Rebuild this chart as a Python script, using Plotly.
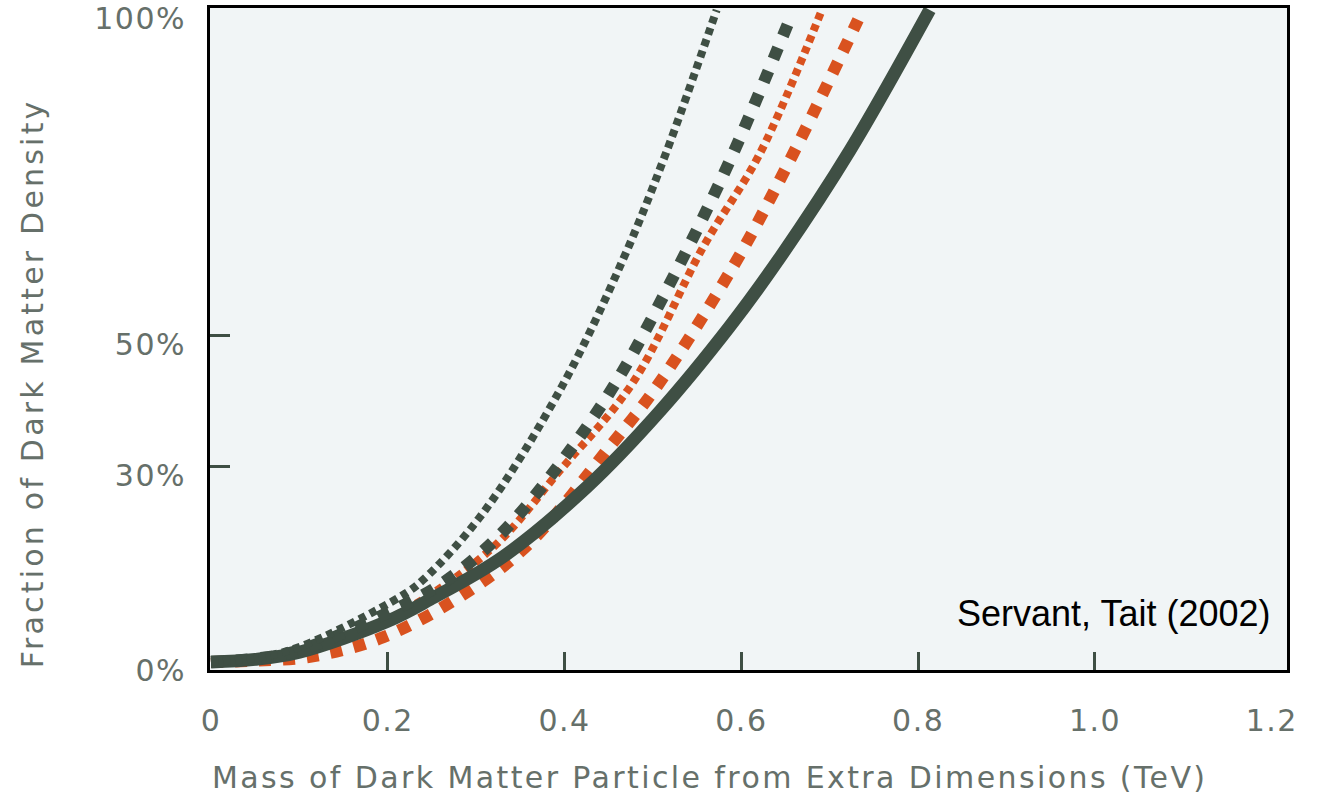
import plotly.graph_objects as go

# Hodnoty (x v TeV, y v %)
steep_x = [0, 0.05, 0.1, 0.214, 0.24, 0.308, 0.398, 0.466, 0.514, 0.572]
steep_y = [0, 0.6, 2.3, 10, 12.6, 22.9, 42.5, 61.7, 77.8, 100]

dark_big_x = [0, 0.05, 0.1, 0.199, 0.262, 0.327, 0.398, 0.46, 0.528, 0.589, 0.653]
dark_big_y = [0, 0.5, 1.8, 7.5, 12.1, 19.5, 31, 43.3, 60.4, 77.5, 98]

orange_small_x = [0, 0.05, 0.1, 0.2, 0.316, 0.395, 0.477, 0.557, 0.621, 0.691]
orange_small_y = [0, 0.4, 1.5, 6.5, 17.2, 29.4, 42.8, 63.7, 78, 100]

orange_big_x = [0, 0.05, 0.112, 0.195, 0.293, 0.361, 0.451, 0.504, 0.593, 0.658, 0.732]
orange_big_y = [0, 0.2, 0.8, 3.8, 11, 18.3, 33, 42.2, 61.2, 77.8, 98.5]

solid_x = [0, 0.05, 0.1, 0.199, 0.248, 0.33, 0.425, 0.508, 0.587, 0.644, 0.723, 0.813]
solid_y = [0, 0.4, 1.5, 6.2, 9.6, 16.1, 26.8, 38.5, 51.5, 62.1, 78.5, 100]

x_ticks = [0, 0.2, 0.4, 0.6, 0.8, 1.0, 1.2]
x_tick_text = ["0", "0.2", "0.4", "0.6", "0.8", "1.0", "1.2"]
x_inner_ticks = [0.2, 0.4, 0.6, 0.8, 1.0]
y_ticks = [0, 30, 50, 100]
y_tick_text = ["0%", "30%", "50%", "100%"]
y_inner_ticks = [30, 50]

DARK = "#3f4f44"
ORANGE = "#d9521f"
GREY_TEXT = "#66706a"
FONT = "DejaVu Sans"


def spaced(text, px):
    # rozestrčené písmo jako v originále
    return f'<span style="letter-spacing:{px}px">{text}</span>'


fig = go.Figure()

def add_curve(x, y, color, width, dash):
    fig.add_trace(go.Scatter(
        x=x, y=y, mode="lines",
        line=dict(color=color, width=width, dash=dash, shape="spline", smoothing=1.0),
        showlegend=False, hoverinfo="skip",
    ))

add_curve(orange_big_x, orange_big_y, ORANGE, 12, "12px,12px")
add_curve(orange_small_x, orange_small_y, ORANGE, 8, "7px,5px")
add_curve(solid_x, solid_y, DARK, 13, "solid")
add_curve(dark_big_x, dark_big_y, DARK, 12, "12px,13px")
add_curve(steep_x, steep_y, DARK, 8, "7px,5px")

fig.add_annotation(
    text="Servant, Tait (2002)", xref="paper", yref="paper",
    x=0.987, y=0.086, xanchor="right", yanchor="middle", showarrow=False,
    font=dict(family="Liberation Sans, Arial", size=36, color="black"),
)
fig.add_annotation(
    text=spaced("Mass of Dark Matter Particle from Extra Dimensions (TeV)", 2.4),
    xref="paper", yref="paper", x=0.0, y=-0.163,
    xanchor="left", yanchor="middle", showarrow=False,
    font=dict(family=FONT, size=30, color=GREY_TEXT),
)
fig.add_annotation(
    text=spaced("Fraction of Dark Matter Density", 3.2),
    xref="paper", yref="paper", x=-0.165, y=0.0, textangle=-90,
    xanchor="center", yanchor="bottom", showarrow=False,
    font=dict(family=FONT, size=30, color=GREY_TEXT),
)

fig.update_layout(
    width=1324, height=799,
    margin=dict(l=210, r=37, t=8, b=129),
    paper_bgcolor="white",
    plot_bgcolor="#f1f5f6",
    xaxis=dict(
        range=[-0.0011, 1.2172], automargin=False,
        tickvals=x_ticks, ticktext=[spaced(t, 1.5) for t in x_tick_text],
        ticks="", ticklabelstandoff=22,
        showgrid=False, zeroline=False,
        showline=True, mirror=True, linecolor="black", linewidth=3,
        tickfont=dict(family=FONT, size=30, color=GREY_TEXT),
        minor=dict(tickmode="array", tickvals=x_inner_ticks, ticks="inside",
                   ticklen=18, tickwidth=3, tickcolor=DARK, showgrid=False),
    ),
    yaxis=dict(
        range=[-1.23, 100.3], automargin=False,
        tickvals=y_ticks, ticktext=[spaced(t, 1.5) for t in y_tick_text],
        ticks="", ticklabelstandoff=15, ticklabelshift=9,
        ticklabeloverflow="allow",
        showgrid=False, zeroline=False,
        showline=True, mirror=True, linecolor="black", linewidth=3,
        tickfont=dict(family=FONT, size=30, color=GREY_TEXT),
        minor=dict(tickmode="array", tickvals=y_inner_ticks, ticks="inside",
                   ticklen=20, tickwidth=3, tickcolor=DARK, showgrid=False),
    ),
)

# stránka bez okraje, aby graf seděl přesně do okna
fig.write_html("out.html", config={"displayModeBar": False},
               post_script="document.body.style.margin='0';")
